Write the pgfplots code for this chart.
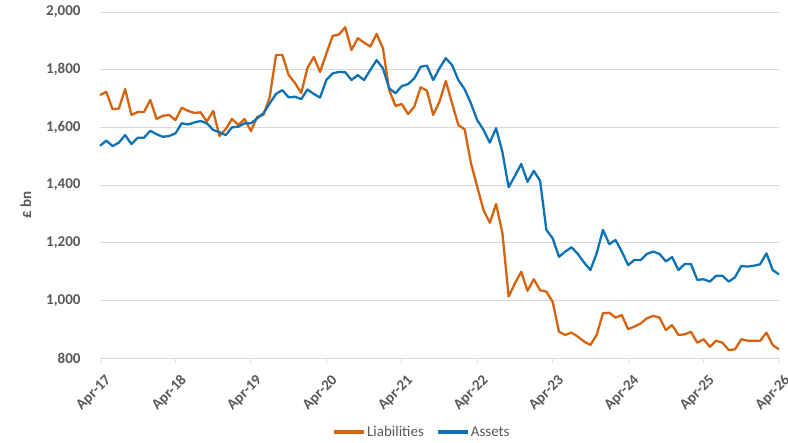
\documentclass[border=0pt]{standalone}
\usepackage{pgfplots}
\pgfplotsset{compat=1.18}
\usepackage{fontspec}
\setmainfont{Carlito}
\definecolor{liab}{RGB}{214,100,14}
\definecolor{asst}{RGB}{14,114,180}
\definecolor{txt}{RGB}{89,89,89}
\definecolor{grd}{RGB}{217,217,217}
\begin{document}
\begin{tikzpicture}
\path[use as bounding box] (-100pt,-85pt) rectangle (688pt,358pt);
\begin{axis}[
  scale only axis, width=679pt, height=346pt,
  xmin=0, xmax=108, ymin=800, ymax=2000,
  xtick={0,12,...,108},
  xticklabels={Apr-17,Apr-18,Apr-19,Apr-20,Apr-21,Apr-22,Apr-23,Apr-24,Apr-25,Apr-26},
  ytick={800,1000,...,2000},
  /pgf/number format/assume math mode=true,
  /pgf/number format/1000 sep={,},
  ymajorgrids, major grid style={grd, line width=0.8pt},
  axis y line*=left, axis x line*=bottom,
  y axis line style={draw=none},
  x axis line style={grd, line width=0.8pt},
  ytick style={draw=none},
  xtick style={grd, line width=0.8pt},
  tick align=outside, major tick length=5pt,
  ticklabel style={font=\fontsize{15}{17}\selectfont\bfseries, text=txt},
  xticklabel style={rotate=45, anchor=east, xshift=-1pt, yshift=-17pt},
  yticklabel style={xshift=-11pt},
  ylabel={£ bn},
  ylabel style={at={(axis description cs:-0.109,0.442)}, anchor=center, font=\fontsize{15}{17}\selectfont\bfseries, text=txt},
  legend columns=2,
  legend style={draw=none, fill=none, at={(axis description cs:0.474,-0.214)}, anchor=center, font=\fontsize{15}{17}\selectfont, text=txt,
    /tikz/every even column/.append style={column sep=10pt},
    /tikz/every odd column/.append style={column sep=-1pt}},
  legend image code/.code={\draw[#1, line width=4pt] (0pt,0pt) -- (30pt,0pt);},
  clip=false,
]
\addplot[liab, line width=2.3pt, line join=round] coordinates {
(0,1712)(1,1723)(2,1663)(3,1665)(4,1733)(5,1643)(6,1653)(7,1653)(8,1695)(9,1629)
(10,1640)(11,1643)(12,1625)(13,1668)(14,1657)(15,1650)(16,1652)(17,1620)(18,1657)(19,1570)
(20,1594)(21,1629)(22,1608)(23,1629)(24,1587)(25,1636)(26,1643)(27,1705)(28,1851)(29,1851)
(30,1782)(31,1754)(32,1719)(33,1806)(34,1844)(35,1792)(36,1855)(37,1917)(38,1922)(39,1947)
(40,1868)(41,1909)(42,1894)(43,1880)(44,1924)(45,1874)(46,1729)(47,1674)(48,1681)(49,1646)
(50,1672)(51,1739)(52,1727)(53,1643)(54,1689)(55,1761)(56,1683)(57,1608)(58,1593)(59,1476)
(60,1394)(61,1313)(62,1269)(63,1334)(64,1234)(65,1013)(66,1059)(67,1099)(68,1033)(69,1073)
(70,1035)(71,1030)(72,995)(73,891)(74,880)(75,888)(76,874)(77,857)(78,845)(79,880)
(80,955)(81,957)(82,940)(83,949)(84,900)(85,909)(86,920)(87,938)(88,946)(89,940)
(90,897)(91,914)(92,880)(93,882)(94,891)(95,853)(96,865)(97,839)(98,860)(99,853)
(100,828)(101,830)(102,865)(103,860)(104,860)(105,860)(106,888)(107,845)(108,830)
};
\addlegendentry{Liabilities}
\addplot[asst, line width=2.3pt, line join=round] coordinates {
(0,1536)(1,1554)(2,1535)(3,1547)(4,1573)(5,1542)(6,1564)(7,1564)(8,1588)(9,1576)
(10,1567)(11,1570)(12,1579)(13,1614)(14,1610)(15,1617)(16,1622)(17,1614)(18,1591)(19,1583)
(20,1573)(21,1600)(22,1602)(23,1614)(24,1614)(25,1631)(26,1649)(27,1683)(28,1716)(29,1729)
(30,1704)(31,1706)(32,1698)(33,1731)(34,1716)(35,1703)(36,1764)(37,1787)(38,1792)(39,1791)
(40,1764)(41,1781)(42,1764)(43,1799)(44,1833)(45,1805)(46,1735)(47,1718)(48,1743)(49,1750)
(50,1770)(51,1810)(52,1814)(53,1764)(54,1805)(55,1840)(56,1816)(57,1764)(58,1732)(59,1683)
(60,1625)(61,1591)(62,1547)(63,1597)(64,1515)(65,1392)(66,1432)(67,1473)(68,1411)(69,1449)
(70,1415)(71,1244)(72,1215)(73,1151)(74,1169)(75,1184)(76,1161)(77,1131)(78,1105)(79,1163)
(80,1244)(81,1195)(82,1209)(83,1169)(84,1122)(85,1140)(86,1140)(87,1161)(88,1169)(89,1161)
(90,1135)(91,1150)(92,1105)(93,1126)(94,1126)(95,1071)(96,1073)(97,1065)(98,1085)(99,1085)
(100,1065)(101,1080)(102,1119)(103,1117)(104,1120)(105,1125)(106,1163)(107,1105)(108,1090)
};
\addlegendentry{Assets}
\end{axis}
\end{tikzpicture}
\end{document}
